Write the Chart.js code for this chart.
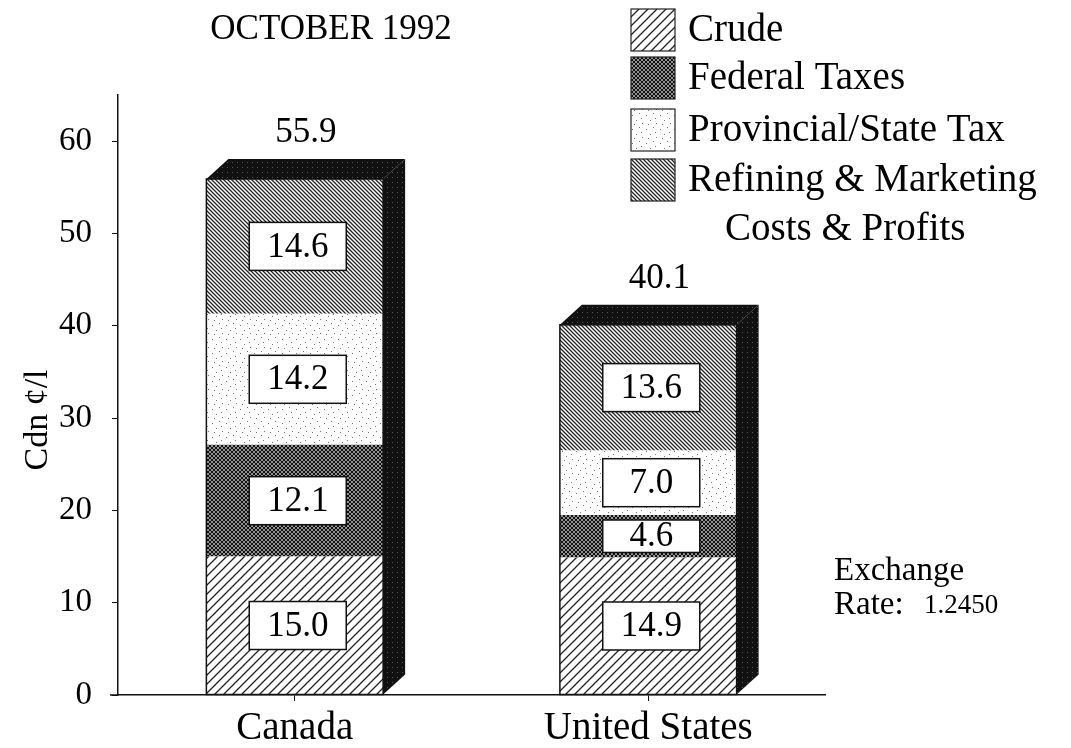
<!DOCTYPE html>
<html>
<head>
<meta charset="utf-8">
<script src="https://cdn.jsdelivr.net/npm/chart.js@4.4.1/dist/chart.umd.min.js"></script>
<style>
  html, body { margin: 0; padding: 0; background: #fff; }
  #wrap { width: 1071px; height: 748px; }
</style>
</head>
<body>
<div id="wrap"><canvas id="myChart" width="1071" height="748"></canvas></div>
<script>
// values (Cdn cents per litre)
const categories = ['Canada', 'United States'];
const crude = [15.0, 14.9];
const federalTaxes = [12.1, 4.6];
const provincialTax = [14.2, 7.0];
const refining = [14.6, 13.6];
const totals = [55.9, 40.1];
const seriesNames = ['Crude', 'Federal Taxes', 'Provincial/State Tax', 'Refining & Marketing'];
const yTicks = [0, 10, 20, 30, 40, 50, 60];

const SERIF = '"Liberation Serif", "Times New Roman", serif';

// small fill patterns that look like the printed hatching
function makePattern(size, paint) {
    const c = document.createElement('canvas');
    c.width = size;
    c.height = size;
    const g = c.getContext('2d');
    paint(g, size);
    return document.createElement('canvas').getContext('2d').createPattern(c, 'repeat');
}

const crudeFill = makePattern(9, function (g, s) {
    g.fillStyle = '#fff';
    g.fillRect(0, 0, s, s);
    g.strokeStyle = '#222';
    g.lineWidth = 1.3;
    g.beginPath();
    g.moveTo(0, s); g.lineTo(s, 0);
    g.moveTo(-1, 1); g.lineTo(1, -1);
    g.moveTo(s - 1, s + 1); g.lineTo(s + 1, s - 1);
    g.stroke();
});

const federalFill = makePattern(4, function (g, s) {
    g.fillStyle = '#929292';
    g.fillRect(0, 0, s, s);
    g.strokeStyle = '#111';
    g.lineWidth = 1.0;
    g.beginPath();
    g.moveTo(0, 0); g.lineTo(s, s);
    g.moveTo(0, s); g.lineTo(s, 0);
    g.stroke();
});

const provFill = makePattern(14, function (g, s) {
    g.fillStyle = '#fff';
    g.fillRect(0, 0, s, s);
    g.fillStyle = '#777';
    [[2, 3], [9, 1], [6, 8], [12, 11], [4, 12], [11, 6]].forEach(function (p) {
        g.fillRect(p[0], p[1], 1, 1);
    });
});

const refiningFill = makePattern(4, function (g, s) {
    g.fillStyle = '#fff';
    g.fillRect(0, 0, s, s);
    g.strokeStyle = '#222';
    g.lineWidth = 1.3;
    g.beginPath();
    g.moveTo(0, 0); g.lineTo(s, s);
    g.moveTo(-1, s - 1); g.lineTo(1, s + 1);
    g.moveTo(s - 1, -1); g.lineTo(s + 1, 1);
    g.stroke();
});

const darkFill = makePattern(5, function (g, s) {
    g.fillStyle = '#111';
    g.fillRect(0, 0, s, s);
    g.fillStyle = '#555';
    g.fillRect(2, 2, 1, 1);
});

const fills = [crudeFill, federalFill, provFill, refiningFill];

// depth of the 3-D box
const DX = 22;
const DY = -20;

const boxesPlugin = {
    id: 'boxes',
    afterDatasetsDraw(chart) {
        const ctx = chart.ctx;
        const first = chart.getDatasetMeta(0);
        const last = chart.getDatasetMeta(chart.data.datasets.length - 1);
        ctx.save();

        first.data.forEach(function (el0, i) {
            const topEl = last.data[i];
            const left = el0.x - el0.width / 2;
            const right = el0.x + el0.width / 2;
            const top = topEl.y;
            const bottom = el0.base;

            // side
            ctx.fillStyle = darkFill;
            ctx.beginPath();
            ctx.moveTo(right, bottom);
            ctx.lineTo(right + DX, bottom + DY);
            ctx.lineTo(right + DX, top + DY);
            ctx.lineTo(right, top);
            ctx.closePath();
            ctx.fill();

            // top
            ctx.beginPath();
            ctx.moveTo(left, top);
            ctx.lineTo(left + DX, top + DY);
            ctx.lineTo(right + DX, top + DY);
            ctx.lineTo(right, top);
            ctx.closePath();
            ctx.fill();

            // front outline
            ctx.strokeStyle = '#111';
            ctx.lineWidth = 1.5;
            ctx.strokeRect(left, top, right - left, bottom - top);

            // total above
            ctx.fillStyle = '#000';
            ctx.font = '35px ' + SERIF;
            ctx.textAlign = 'center';
            ctx.textBaseline = 'middle';
            ctx.fillText(totals[i].toFixed(1), el0.x + DX / 2, top + DY - 26);
        });

        // value boxes on each segment
        chart.data.datasets.forEach(function (ds, d) {
            chart.getDatasetMeta(d).data.forEach(function (el, i) {
                const segH = el.base - el.y;
                const h = Math.min(48, segH - 10);
                const w = 97;
                const cx = el.x + 3;
                const cy = (el.y + el.base) / 2;
                ctx.fillStyle = '#fff';
                ctx.fillRect(cx - w / 2, cy - h / 2, w, h);
                ctx.strokeStyle = '#111';
                ctx.lineWidth = 1.5;
                ctx.strokeRect(cx - w / 2, cy - h / 2, w, h);
                ctx.fillStyle = '#000';
                ctx.font = '35px ' + SERIF;
                ctx.textAlign = 'center';
                ctx.textBaseline = 'middle';
                ctx.fillText(ds.data[i].toFixed(1), cx, cy + 1);
            });
        });
        ctx.restore();
    },
    afterDraw(chart) {
        const ctx = chart.ctx;
        ctx.save();
        ctx.fillStyle = '#000';
        ctx.textBaseline = 'middle';

        // title
        ctx.font = '35px ' + SERIF;
        ctx.textAlign = 'center';
        ctx.fillText('OCTOBER 1992', 331, 30);

        // y axis title
        ctx.save();
        ctx.translate(38, 420);
        ctx.rotate(-Math.PI / 2);
        ctx.font = '34px ' + SERIF;
        ctx.fillText('Cdn ¢/l', 0, 0);
        ctx.restore();

        // legend
        const rows = [30, 78, 130, 180];
        ctx.textAlign = 'left';
        ctx.font = '39px ' + SERIF;
        rows.forEach(function (y, k) {
            ctx.fillStyle = fills[k];
            ctx.fillRect(631, y - 21, 44, 42);
            ctx.strokeStyle = '#222';
            ctx.lineWidth = 1.2;
            ctx.strokeRect(631, y - 21, 44, 42);
            ctx.fillStyle = '#000';
            ctx.fillText(seriesNames[k], 688, y + 1);
        });
        ctx.fillText('Costs & Profits', 725, 230);

        // exchange rate note
        ctx.font = '33px ' + SERIF;
        ctx.fillText('Exchange', 834, 571);
        ctx.fillText('Rate:', 834, 605);
        ctx.font = '27px ' + SERIF;
        ctx.fillText('1.2450', 924, 606);

        // axis line runs a little left of the y axis
        ctx.strokeStyle = '#111';
        ctx.lineWidth = 1.5;
        ctx.beginPath();
        ctx.moveTo(110, chart.chartArea.bottom);
        ctx.lineTo(chart.chartArea.left, chart.chartArea.bottom);
        ctx.stroke();
        ctx.restore();
    }
};

const ctx = document.getElementById('myChart');

const myChart = new Chart(ctx, {
    type: 'bar',
    data: {
        labels: categories,
        datasets: [
            { label: seriesNames[0], data: crude, backgroundColor: crudeFill },
            { label: seriesNames[1], data: federalTaxes, backgroundColor: federalFill },
            { label: seriesNames[2], data: provincialTax, backgroundColor: provFill },
            { label: seriesNames[3], data: refining, backgroundColor: refiningFill }
        ]
    },
    options: {
        responsive: false,
        animation: false,
        layout: { padding: { left: 16, right: 246, top: 95, bottom: 0 } },
        datasets: {
            bar: { categoryPercentage: 1, barPercentage: 0.5, borderWidth: 0 }
        },
        plugins: {
            legend: { display: false },
            title: { display: false },
            tooltip: { enabled: false }
        },
        scales: {
            x: {
                stacked: true,
                grid: { offset: false, drawOnChartArea: false, tickLength: 6, color: '#111' },
                border: { color: '#111', width: 1.5 },
                ticks: { color: '#000', font: { family: SERIF, size: 39 }, padding: 4, maxRotation: 0 },
                afterFit: function (scale) { scale.height = 53; }
            },
            y: {
                stacked: true,
                min: 0,
                max: 65,
                grid: { drawOnChartArea: false, tickLength: 6, color: '#111' },
                border: { color: '#111', width: 1.5 },
                ticks: { stepSize: 10, color: '#000', font: { family: SERIF, size: 33 }, padding: 20 },
                afterBuildTicks: function (scale) {
                    scale.ticks = yTicks.map(function (v) { return { value: v }; });
                },
                afterFit: function (scale) { scale.width = 102; }
            }
        }
    },
    plugins: [boxesPlugin]
});
</script>
</body>
</html>
